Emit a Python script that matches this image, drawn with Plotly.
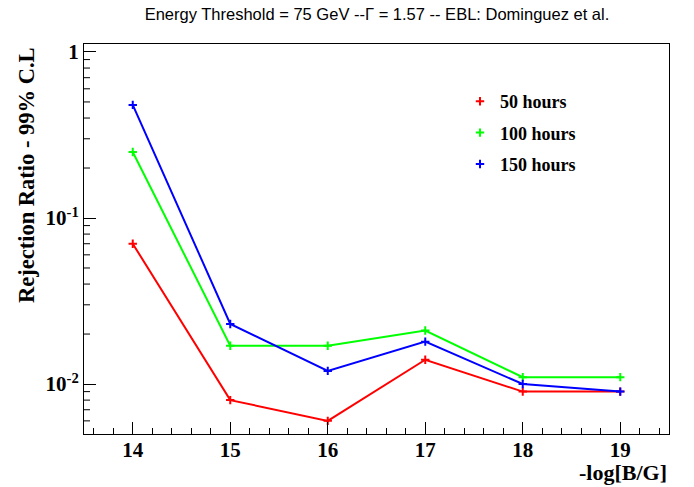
import plotly.graph_objects as go

x_vals = [14, 15, 16, 17, 18, 19]
h50 = [0.070, 0.0080, 0.0060, 0.014, 0.0090, 0.0090]
h100 = [0.25, 0.017, 0.017, 0.021, 0.011, 0.011]
h150 = [0.48, 0.023, 0.012, 0.018, 0.010, 0.0090]
names = ["50 hours", "100 hours", "150 hours"]
colors = ["#ff0000", "#00ff00", "#0000ff"]
series = [h50, h100, h150]
y_major = [0.01, 0.1, 1]
y_major_text = ["10<sup>-2</sup>", "10<sup>-1</sup>", "1"]
y_minor = [m * 10.0 ** k for k in (-3, -2, -1, 0) for m in range(2, 10)]

x_range = [13.5, 19.5]
y_range_log = [-2.301, 0.048]
plot_w = 585

fig = go.Figure()

# minor ticks on the log y axis (drawn as a tick-mark trace)
tick_len = 6 * (x_range[1] - x_range[0]) / plot_w
lo, hi = 10 ** y_range_log[0], 10 ** y_range_log[1]
tx, ty = [], []
for v in y_minor:
    if lo <= v <= hi:
        tx += [x_range[0], x_range[0] + tick_len, None]
        ty += [v, v, None]
fig.add_trace(go.Scatter(x=tx, y=ty, mode="lines", showlegend=False, hoverinfo="skip",
                         line=dict(color="black", width=1)))

for i, (name, col, ys) in enumerate(zip(names, colors, series)):
    fig.add_trace(go.Scatter(
        x=x_vals, y=ys, mode="lines+markers", name=name, showlegend=False,
        line=dict(color=col, width=2),
        marker=dict(symbol="cross-thin", size=6, line=dict(color=col, width=2)),
    ))
for i, (name, col) in enumerate(zip(names, colors)):
    fig.add_trace(go.Scatter(
        x=[None], y=[None], mode="markers", name=name, legendgroup=f"g{i}",
        marker=dict(symbol="cross-thin", size=6, line=dict(color=col, width=2)),
    ))

serif = "Liberation Serif"
fig.update_layout(
    width=694, height=487,
    margin=dict(l=84, r=25, t=44, b=53),
    paper_bgcolor="white", plot_bgcolor="white",
    title=dict(text="Energy Threshold = 75 GeV --Γ = 1.57 -- EBL: Dominguez et al.",
               x=377/694, xanchor="center", y=1-14/487, yanchor="middle",
               font=dict(family="Liberation Sans", size=16.5, color="black")),
    xaxis=dict(range=x_range, tickvals=x_vals, ticks="inside", ticklen=12,
               tickwidth=1, tickcolor="black", showgrid=False, zeroline=False,
               showline=True, linecolor="black", linewidth=1, mirror=True,
               ticklabelstandoff=-3,
               tickfont=dict(family=serif, size=21, color="black", weight="bold"),
               minor=dict(dtick=0.2, tick0=14, ticks="inside", ticklen=6,
                          tickcolor="black", tickwidth=1, showgrid=False)),
    yaxis=dict(type="log", range=y_range_log, tickvals=y_major,
               ticktext=y_major_text,
               ticks="inside", ticklen=12, tickwidth=1, tickcolor="black",
               showgrid=False, zeroline=False,
               showline=True, linecolor="black", linewidth=1, mirror=True,
               tickfont=dict(family=serif, size=21, color="black", weight="bold")),
    legend=dict(x=(460-84)/585, y=1-(83-44)/390, xanchor="left", yanchor="top",
                bgcolor="rgba(0,0,0,0)", tracegroupgap=5, traceorder="grouped",
                font=dict(family=serif, size=18, color="black", weight="bold"),
                itemwidth=30),
    annotations=[
        dict(text="Rejection Ratio - 99% C.L", textangle=-90, xref="paper", yref="paper",
             x=(26-84)/585, y=1-(45-44)/390, xanchor="center", yanchor="top",
             showarrow=False,
             font=dict(family=serif, size=22.5, color="black", weight="bold")),
        dict(text="-log[B/G]", xref="paper", yref="paper", x=1, y=-(472-434)/390,
             xanchor="right", yanchor="middle", showarrow=False,
             font=dict(family=serif, size=22, color="black", weight="bold")),
    ],
)
fig.write_html("out.html")
